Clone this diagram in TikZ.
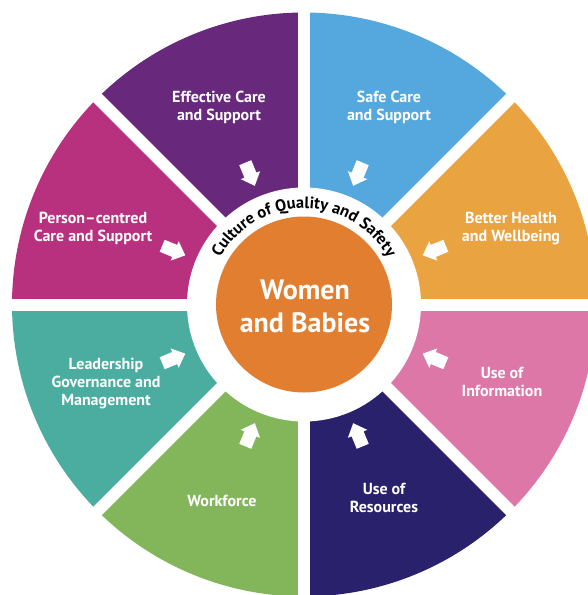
\documentclass[tikz,border=0pt]{standalone}
\usepackage{fontspec}
\setmainfont{PT Sans}
\usetikzlibrary{decorations.text}
\definecolor{cPurple}{HTML}{68297C}
\definecolor{cBlue}{HTML}{55A8DD}
\definecolor{cOrange}{HTML}{EAA341}
\definecolor{cPink}{HTML}{DC77A7}
\definecolor{cNavy}{HTML}{2A216D}
\definecolor{cGreen}{HTML}{83B65B}
\definecolor{cTeal}{HTML}{4BADA0}
\definecolor{cMagenta}{HTML}{B7317F}
\definecolor{cCore}{HTML}{E27E30}
\tikzset{
  seglabel/.style={text=white, align=center, font=\fontsize{16}{18}\selectfont\bfseries},
  corelabel/.style={text=white, align=center, font=\fontsize{28}{33}\selectfont\bfseries},
  arrowfill/.style={fill=white, draw=none},
  gap/.style={draw=white, line width=12pt}
}
\begin{document}
\begin{tikzpicture}[x=1pt,y=1pt]
\useasboundingbox (-304,-290.5) rectangle (283,304.5);
% sectors
\foreach \a/\c in {0/cOrange,45/cBlue,90/cPurple,135/cMagenta,180/cTeal,225/cGreen,270/cNavy,315/cPink}{
  \fill[\c] (0,0) -- (\a:292) arc[start angle=\a, end angle=\a+45, radius=292] -- cycle;
}
\foreach \a in {0,45,...,315}{
  \draw[gap] (0,0) -- (\a:310);
}
\fill[white] (0,0) circle (117);
\node[circle, fill=cCore, minimum size=176pt, inner sep=0pt] (core) at (0,0) {};
\node[corelabel] (corelab) at (1,-1.5) {Women\\and Babies};
% arc text
\path[decorate, decoration={text along path, text align=center,
  text={|\fontsize{16.5}{17}\selectfont\bfseries|Culture of Quality and Safety}}]
  (170:96) arc[start angle=170, end angle=10, radius=96];
% labels
\node[seglabel] (eff) at (-85,197.5) {Effective Care\\and Support};
\node[seglabel] (safe) at (85,197.5) {Safe Care\\and Support};
\node[seglabel] (better) at (207,76) {Better Health\\and Wellbeing};
\node[seglabel] (person) at (-211,76) {Person\textendash centred\\Care and Support};
\node[seglabel] (lead) at (-198,-79.5) {Leadership\\Governance and\\Management};
\node[seglabel] (work) at (-82,-196) {Workforce};
\node[seglabel] (info) at (198,-77.5) {Use of\\Information};
\node[seglabel] (res) at (80,-193.5) {Use of\\Resources};
% arrows
\foreach \a/\n in {22.5/ar1,67.5/ar2,112.5/ar3,157.5/ar4,202.5/ar5,247.5/ar6,292.5/ar7,337.5/ar8}{
  \coordinate (\n) at (\a:141);
  \begin{scope}[shift={(\n)}, rotate=\a+180]
    \fill[arrowfill] (-12.5,-6.5) -- (1,-6.5) -- (1,-10.5) -- (12.5,0) -- (1,10.5) -- (1,6.5) -- (-12.5,6.5) -- cycle;
  \end{scope}
}
\end{tikzpicture}
\end{document}
